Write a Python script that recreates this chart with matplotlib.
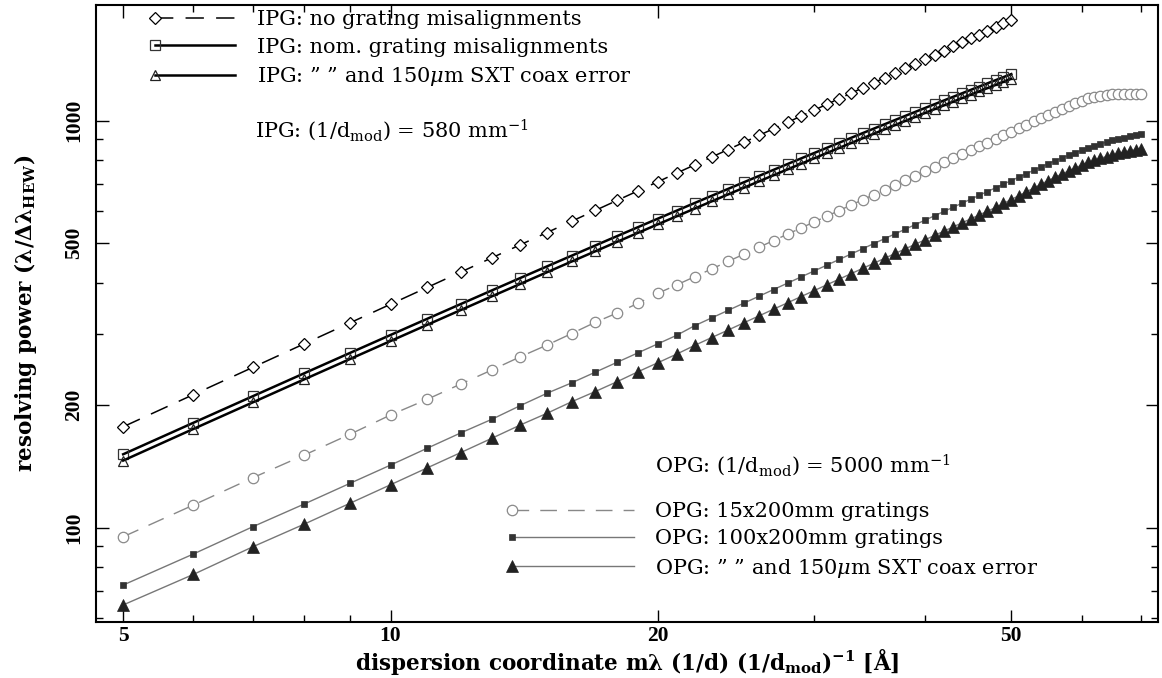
import numpy as np
import matplotlib
matplotlib.use("Agg")
import matplotlib.pyplot as plt
from matplotlib.legend_handler import HandlerLine2D
from matplotlib.ticker import NullFormatter

plt.rcParams['font.family'] = ['DejaVu Serif']
plt.rcParams['mathtext.fontset'] = 'dejavuserif'

# dispersion coordinate (integer steps)
x_ipg = np.arange(5, 51)
x_opg = np.arange(5, 71)

# IPG, 580 mm^-1
ipg_none = [177.0, 212.4, 247.8, 283.2, 318.6, 354.0, 389.4, 424.8, 460.2, 495.6,
            531.0, 566.4, 601.8, 637.2, 672.6, 708.0, 743.4, 778.8, 814.2, 849.6,
            885.0, 920.4, 955.8, 991.2, 1026.6, 1062.0, 1097.4, 1132.8, 1168.2, 1203.6,
            1239.0, 1274.4, 1309.8, 1345.2, 1380.6, 1416.0, 1451.4, 1486.8, 1522.2, 1557.6,
            1593.0, 1628.4, 1663.8, 1699.2, 1734.6, 1770.0]
ipg_nom = [151.5, 181.1, 210.5, 239.7, 268.7, 297.5, 326.1, 354.5, 382.7, 410.7,
           438.5, 466.1, 493.5, 520.7, 547.7, 574.6, 601.2, 627.7, 654.0, 680.1,
           706.0, 731.8, 757.4, 782.8, 808.0, 833.1, 858.0, 882.8, 907.3, 931.8,
           956.0, 980.1, 1004.1, 1027.9, 1051.5, 1075.0, 1098.3, 1121.5, 1144.5, 1167.4,
           1190.2, 1212.8, 1235.2, 1257.5, 1279.7, 1301.7]
ipg_coax = [146.2, 174.9, 203.3, 231.6, 259.6, 287.5, 315.2, 342.7, 370.1, 397.2,
            424.2, 451.0, 477.6, 504.1, 530.4, 556.5, 582.4, 608.2, 633.8, 659.2,
            684.5, 709.6, 734.6, 759.4, 784.0, 808.5, 832.9, 857.1, 881.1, 905.0,
            928.7, 952.3, 975.7, 999.0, 1022.2, 1045.2, 1068.1, 1090.8, 1113.4, 1135.9,
            1158.2, 1180.4, 1202.4, 1224.3, 1246.2, 1267.8]

# OPG, 5000 mm^-1
opg_15 = [95.0, 113.7, 132.7, 150.9, 169.6, 189.2, 206.8, 225.5, 244.0, 263.0,
          281.0, 300.0, 319.6, 337.0, 356.0, 376.6, 395.0, 413.6, 432.4, 451.2,
          470.0, 488.8, 507.6, 526.4, 545.2, 564.0, 582.8, 601.6, 620.4, 639.2,
          658.0, 676.8, 695.6, 714.4, 733.2, 752.0, 770.8, 789.6, 808.4, 827.2,
          846.0, 864.8, 883.6, 902.4, 921.2, 940.0, 958.8, 977.6, 996.4, 1015.2,
          1034.0, 1052.8, 1071.0, 1089.0, 1106.0, 1121.0, 1134.0, 1145.0, 1153.0, 1159.0,
          1163.0, 1165.0, 1166.0, 1166.0, 1165.0, 1164.0]
opg_100 = [72.3, 86.2, 100.6, 114.4, 128.5, 142.5, 156.8, 171.0, 184.6, 199.5,
           213.9, 227.0, 241.0, 255.0, 269.0, 283.0, 297.0, 313.5, 327.8, 342.0,
           356.3, 370.5, 384.8, 399.0, 413.3, 427.5, 441.8, 456.0, 470.3, 484.5,
           498.8, 513.0, 527.3, 541.5, 555.8, 570.0, 584.3, 598.5, 612.8, 627.0,
           641.3, 655.5, 669.8, 684.0, 698.3, 712.5, 726.8, 741.0, 755.3, 769.5,
           784.0, 797.0, 810.0, 822.0, 834.0, 846.0, 857.0, 867.0, 877.0, 886.0,
           894.0, 902.0, 909.0, 915.0, 921.0, 926.0]
opg_coax = [64.6, 76.8, 89.8, 102.1, 114.8, 127.5, 140.3, 153.0, 165.8, 178.8,
            191.0, 204.0, 216.0, 228.5, 241.7, 254.3, 267.0, 280.5, 293.3, 306.0,
            318.8, 331.5, 344.3, 357.0, 369.8, 382.5, 395.3, 408.0, 420.8, 433.5,
            446.3, 459.0, 471.8, 484.5, 497.3, 510.0, 522.8, 535.5, 548.3, 561.0,
            573.8, 586.5, 599.3, 612.0, 626.0, 640.2, 654.5, 668.8, 683.2, 697.7,
            712.4, 725.9, 739.4, 752.1, 764.8, 777.6, 789.5, 799.1, 808.3, 816.6,
            824.0, 831.3, 837.8, 843.3, 848.8, 853.5]

x_major = [5, 10, 20, 50]
x_minor = [6, 7, 8, 9, 30, 40, 60, 70]
y_major = [100, 200, 500, 1000]
y_minor = [60, 70, 80, 90, 300, 400, 600, 700, 800, 900]


class LeftMarker(HandlerLine2D):
    # put the legend marker at the left end of the sample line
    def create_artists(self, *args, **kwargs):
        arts = super().create_artists(*args, **kwargs)
        for a in arts:
            a.set_markevery([0])
        return arts


fig = plt.figure(figsize=(11.62, 6.78), dpi=100)
ax = fig.add_axes([0.0829, 0.083, 0.9137, 0.9096])

dash = (0, (12, 8))
l1, = ax.plot(x_ipg, ipg_none, color='black', lw=1.1, ls=dash, marker='D', ms=6.5,
              mfc='white', mec='black', mew=0.9)
l2, = ax.plot(x_ipg, ipg_nom, color='black', lw=1.8, marker='s', ms=6.5,
              mfc='none', mec='#333333', mew=0.9)
l3, = ax.plot(x_ipg, ipg_coax, color='black', lw=1.8, marker='^', ms=7,
              mfc='none', mec='#222222', mew=0.9)

o1, = ax.plot(x_opg, opg_15, color='#888888', lw=1.0, ls=dash, marker='o', ms=7.5,
              mfc='white', mec='#8a8a8a', mew=0.9)
o2, = ax.plot(x_opg, opg_100, color='#777777', lw=1.0, marker='s', ms=4.8,
              mfc='#333333', mec='#333333', mew=0.5)
o3, = ax.plot(x_opg, opg_coax, color='#777777', lw=1.0, marker='^', ms=8,
              mfc='#222222', mec='#222222', mew=0.5)

ax.set_xscale('log')
ax.set_yscale('log')
ax.set_xlim(4.664, 73.15)
ax.set_ylim(58.75, 1924)

tick_font = dict(fontfamily='Liberation Serif', fontweight='bold', fontsize=15.5)
ax.set_xticks(x_major, [str(v) for v in x_major], **tick_font)
ax.set_xticks(x_minor, minor=True)
ax.set_yticks(y_major, [str(v) for v in y_major], rotation=90, va='center', **tick_font)
ax.set_yticks(y_minor, minor=True)
ax.xaxis.set_minor_formatter(NullFormatter())
ax.yaxis.set_minor_formatter(NullFormatter())

ax.tick_params(which='both', direction='in', top=True, right=True, width=1)
ax.tick_params(which='major', length=9)
ax.tick_params(which='minor', length=5)
ax.tick_params(axis='x', which='major', pad=3)
ax.tick_params(axis='y', which='major', pad=9)
for sp in ax.spines.values():
    sp.set_linewidth(1.5)

ax.set_xlabel(r'dispersion coordinate m$\mathbf{\lambda}$ (1/d) (1/d$_{\mathbf{mod}}$)$^{\mathbf{-1}}$ [Å]',
              fontsize=15.5, fontweight='bold', va='baseline')
ax.xaxis.set_label_coords(0.5, -0.0783)
ax.set_ylabel(r'resolving power ($\mathbf{\lambda/\Delta\lambda_{HEW}}$)',
              fontsize=15.5, fontweight='bold', va='center')
ax.yaxis.set_label_coords(-0.067, 0.5)

hmap = {h: LeftMarker(numpoints=1) for h in (l1, l2, l3, o1, o2, o3)}

leg1 = ax.legend([l1, l2, l3],
                 ['IPG: no grating misalignments',
                  'IPG: nom. grating misalignments',
                  'IPG: ” ” and 150$\\mu$m SXT coax error'],
                 loc='upper left', bbox_to_anchor=(0.0553, 0.9915), frameon=False,
                 fontsize=15, handlelength=3.85, handletextpad=1.05,
                 labelspacing=0.4, borderpad=0, borderaxespad=0, handler_map=hmap)
ax.add_artist(leg1)
ax.text(0.1495, 0.797, r'IPG: (1/d$_{\mathrm{mod}}$) = 580 mm$^{-1}$', transform=ax.transAxes,
        fontsize=15, va='center', ha='left')

leg2 = ax.legend([o1, o2, o3],
                 ['OPG: 15x200mm gratings',
                  'OPG: 100x200mm gratings',
                  'OPG: ” ” and 150$\\mu$m SXT coax error'],
                 loc='upper left', bbox_to_anchor=(0.3915, 0.194), frameon=False,
                 fontsize=15, handlelength=5.87, handletextpad=1.0,
                 labelspacing=0.4, borderpad=0, borderaxespad=0, handler_map=hmap)
ax.text(0.526, 0.254, r'OPG: (1/d$_{\mathrm{mod}}$) = 5000 mm$^{-1}$', transform=ax.transAxes,
        fontsize=15, va='center', ha='left')

fig.savefig('out.png', dpi=100)
